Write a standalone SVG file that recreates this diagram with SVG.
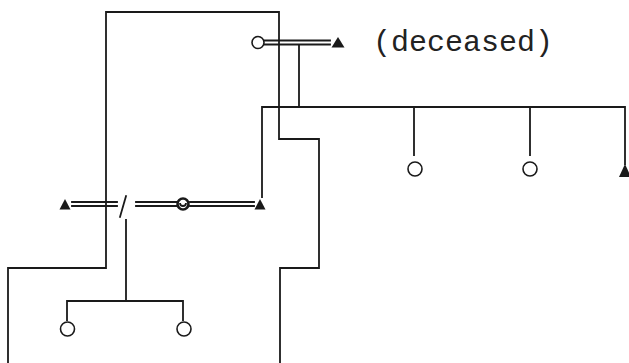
<svg xmlns="http://www.w3.org/2000/svg" width="629" height="363" viewBox="0 0 629 363">
<style>
.ln{fill:none;stroke:#1a1a1a;stroke-width:1.8;stroke-linecap:square}
.bd{fill:none;stroke:#1a1a1a;stroke-width:1.8}
.f{fill:#fff;stroke:#1a1a1a;stroke-width:1.6}
.m{fill:#1a1a1a;stroke:none}
.t{font-family:"Liberation Mono","Courier New",monospace;font-size:30px;fill:#222}
</style>
<rect width="629" height="363" fill="#fff"/>
<g id="connectors">
<path class="ln" d="M264,40.5H330M264,44.5H330"/>
<path class="ln" d="M299,45V107M262,107H625V164M262,107V197M414,107V155M530,107V155"/>
<path class="ln" d="M72,202H117M72,206H117M136,202H177M136,206H177M190,202H254M190,206H254"/>
<path class="ln" d="M120,217L126,196"/>
<path class="ln" d="M126,220V301M67,301H183M67,301V320M183,301V320"/>
</g>
<g id="boundary">
<path class="bd" d="M280,363V268H319V139H279V12H106V268H8V363"/>
</g>
<g id="n-top-female"><circle class="f" cx="258" cy="42.5" r="6"/></g>
<g id="n-top-male"><path class="m" d="M331.5,47.5L338,37L344.5,47.5Z"/></g>
<text class="t" x="373" y="51">(deceased)</text>
<g id="n-left-male"><path class="m" d="M59.5,209.5L65,199L70.5,209.5Z"/></g>
<g id="n-ego"><circle cx="183" cy="204" r="5.5" fill="#fff" stroke="#1a1a1a" stroke-width="2.6"/><path d="M180,203a3,3 0 0 0 6,0" fill="none" stroke="#1a1a1a" stroke-width="1.8"/></g>
<g id="n-right-male"><path class="m" d="M254.5,209.5L260,199L265.5,209.5Z"/></g>
<g id="n-sib1"><circle class="f" cx="415" cy="169" r="7"/></g>
<g id="n-sib2"><circle class="f" cx="530" cy="169" r="7"/></g>
<g id="n-sib3"><path class="m" d="M619,177L625,164L631,177Z"/></g>
<g id="n-child1"><circle class="f" cx="67.5" cy="329" r="7"/></g>
<g id="n-child2"><circle class="f" cx="184" cy="329" r="7"/></g>
</svg>
